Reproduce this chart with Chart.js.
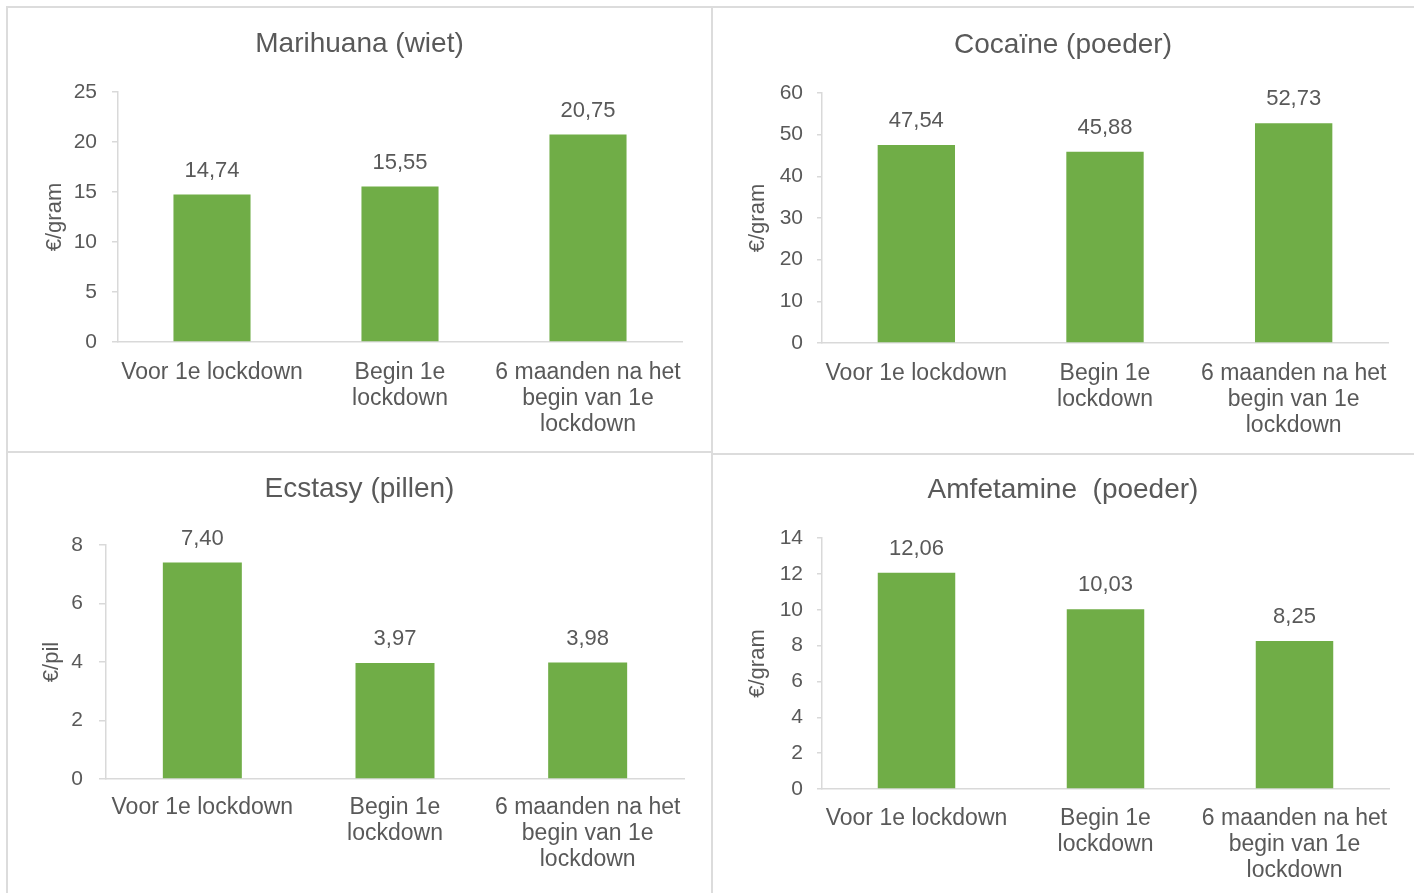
<!DOCTYPE html>
<html lang="nl">
<head>
<meta charset="utf-8">
<title>Prijzen drugs rond de lockdown</title>
<script src="https://cdn.jsdelivr.net/npm/chart.js@4.4.1/dist/chart.umd.min.js"></script>
<style>
  html, body { margin: 0; padding: 0; background: #ffffff; }
  body { width: 1414px; height: 893px; position: relative; overflow: hidden; }
  .panel { position: absolute; }
  .panel canvas { display: block; }
  .rule { position: absolute; background: #dcdcdc; }
</style>
</head>
<body>
<div class="rule" style="left:7px;top:6px;width:1407px;height:2px"></div>
<div class="rule" style="left:6px;top:6px;width:2px;height:887px"></div>
<div class="rule" style="left:711px;top:6px;width:2px;height:887px"></div>
<div class="rule" style="left:7px;top:451px;width:705px;height:2px"></div>
<div class="rule" style="left:712px;top:453px;width:702px;height:2px"></div>

<div class="panel" style="left:7px;top:7px"><canvas id="c1" width="705" height="445"></canvas></div>
<div class="panel" style="left:712px;top:7px"><canvas id="c2" width="702" height="447"></canvas></div>
<div class="panel" style="left:7px;top:452px"><canvas id="c3" width="705" height="441"></canvas></div>
<div class="panel" style="left:712px;top:454px"><canvas id="c4" width="702" height="439"></canvas></div>

<script>
// Periods on the x axis (multi-line labels)
const periods = [
  "Voor 1e lockdown",
  ["Begin 1e", "lockdown"],
  ["6 maanden na het", "begin van 1e", "lockdown"]
];

// Average prices per period
const marihuanaPrices = [14.74, 15.55, 20.75];
const cocainePrices = [47.54, 45.88, 52.73];
const ecstasyPrices = [7.40, 3.97, 3.98];
const amfetaminePrices = [12.06, 10.03, 8.25];

// Titles, units and axis ranges
const chartTitles = ["Marihuana (wiet)", "Cocaïne (poeder)", "Ecstasy (pillen)", "Amfetamine  (poeder)"];
const unitLabels = ["€/gram", "€/gram", "€/pil", "€/gram"];
const axisMax = [25, 60, 8, 14];
const axisStep = [5, 10, 2, 2];

const FONT = "'Liberation Sans', Arial, Helvetica, sans-serif";
const TEXT = "#595959";
const GREEN = "#70AD47";
const LINE = "#d9d9d9";

const formatPrice = v => v.toFixed(2).replace(".", ",");

// Value labels above each bar
const valueLabels = {
  id: "valueLabels",
  afterDatasetsDraw(chart) {
    const ctx = chart.ctx;
    const meta = chart.getDatasetMeta(0);
    const values = chart.data.datasets[0].data;
    ctx.save();
    ctx.font = "22px " + FONT;
    ctx.fillStyle = TEXT;
    ctx.textAlign = "center";
    ctx.textBaseline = "middle";
    meta.data.forEach((bar, i) => {
      ctx.fillText(formatPrice(values[i]), bar.x, bar.y - 24);
    });
    ctx.restore();
  }
};

// Layout of each panel's plot area, in canvas pixels
const frames = [
  { w: 705, h: 445, left: 111, top: 85, right: 675, bottom: 335, titleY: 37, unitX: 48, tick: 6, tickPad: 15, xPad: 18 },
  { w: 702, h: 447, left: 110, top: 86, right: 676, bottom: 336, titleY: 38, unitX: 46, tick: 5, tickPad: 14, xPad: 18 },
  { w: 705, h: 441, left: 99,  top: 93, right: 677, bottom: 327, titleY: 37, unitX: 45, tick: 7, tickPad: 16, xPad: 16 },
  { w: 702, h: 439, left: 110, top: 84, right: 677, bottom: 335, titleY: 36, unitX: 46, tick: 5, tickPad: 14, xPad: 17 }
];

function makeChart(canvasId, idx, values) {
  const f = frames[idx];
  const side = f.w - f.right;          // equal side margins keep the title centred on the panel
  const titleLH = 28 * 1.2;
  const unitLH = 22 * 1.2;
  new Chart(document.getElementById(canvasId), {
    type: "bar",
    data: {
      labels: periods,
      datasets: [{
        data: values,
        backgroundColor: GREEN,
        borderWidth: 0,
        barPercentage: 0.41,
        categoryPercentage: 1
      }]
    },
    options: {
      responsive: false,
      animation: false,
      devicePixelRatio: 1,
      layout: { padding: { left: side, top: 0, right: side, bottom: 0 } },
      plugins: {
        legend: { display: false },
        tooltip: { enabled: false },
        title: {
          display: true,
          text: chartTitles[idx],
          color: TEXT,
          font: { family: FONT, size: 28, weight: "normal", lineHeight: 1.2 },
          padding: { top: f.titleY - titleLH / 2, bottom: f.top - (f.titleY + titleLH / 2) }
        }
      },
      scales: {
        x: {
          grid: { display: false, drawTicks: false },
          border: { display: true, color: LINE, width: 1.5 },
          ticks: {
            color: TEXT,
            font: { family: FONT, size: 23, lineHeight: "26px" },
            padding: f.xPad,
            autoSkip: false,
            maxRotation: 0,
            minRotation: 0
          },
          afterFit(scale) {
            scale.height = f.h - f.bottom;
            scale.paddingLeft = 0;
            scale.paddingRight = 0;
          }
        },
        y: {
          min: 0,
          max: axisMax[idx],
          grid: {
            display: true,
            drawOnChartArea: false,
            drawTicks: true,
            tickLength: f.tick,
            color: LINE,
            lineWidth: 1.5
          },
          border: { display: true, color: LINE, width: 1.5 },
          ticks: {
            stepSize: axisStep[idx],
            color: TEXT,
            font: { family: FONT, size: 21 },
            padding: f.tickPad
          },
          title: {
            display: true,
            text: unitLabels[idx],
            color: TEXT,
            font: { family: FONT, size: 22, lineHeight: 1.2 },
            padding: { top: f.unitX - side - unitLH / 2, bottom: 0 }
          },
          afterFit(scale) {
            scale.width = f.left - side;
            scale.paddingTop = 0;
            scale.paddingBottom = 0;
          }
        }
      }
    },
    plugins: [valueLabels]
  });
}

makeChart("c1", 0, marihuanaPrices);
makeChart("c2", 1, cocainePrices);
makeChart("c3", 2, ecstasyPrices);
makeChart("c4", 3, amfetaminePrices);
</script>
</body>
</html>
